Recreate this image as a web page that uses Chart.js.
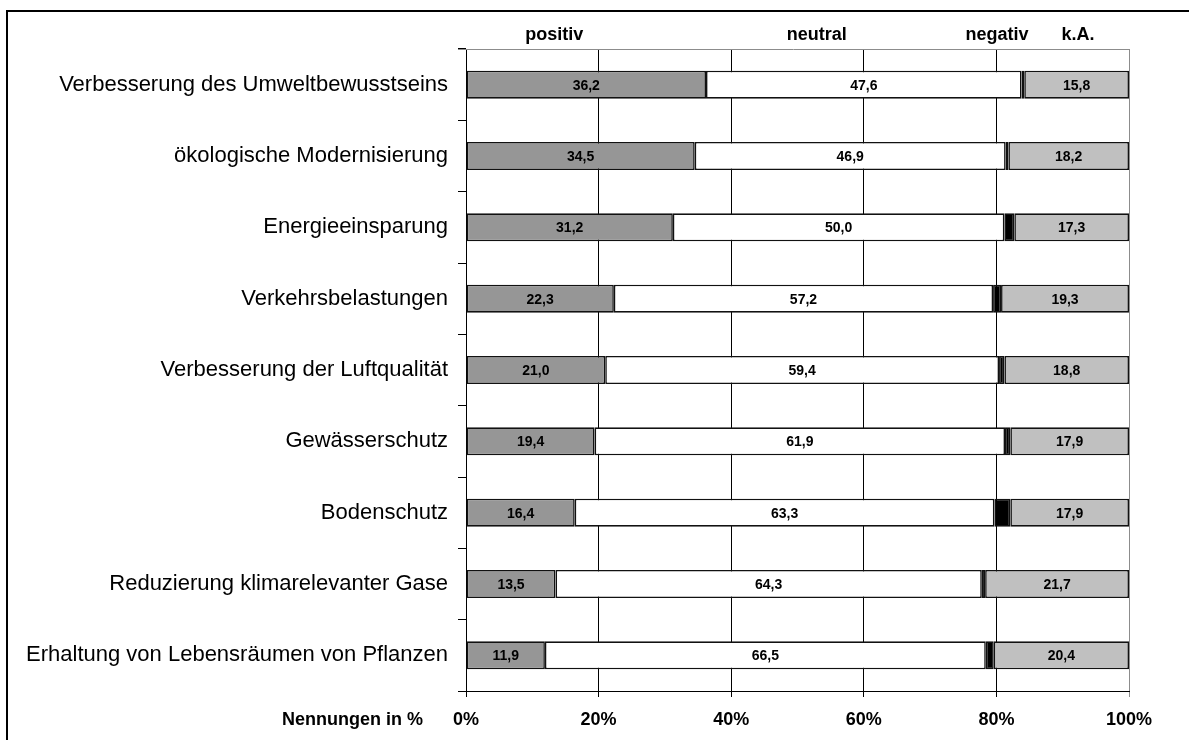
<!DOCTYPE html>
<html>
<head>
<meta charset="utf-8">
<script src="https://cdn.jsdelivr.net/npm/chart.js@4"></script>
<style>
  html, body { margin: 0; padding: 0; background: #fff; }
  #wrap { position: relative; width: 1189px; height: 740px; overflow: hidden; }
  #frame { position: absolute; left: 6px; top: 10px; width: 1300px; height: 800px;
           border-left: 2px solid #000; border-top: 2px solid #000; pointer-events: none; }
  canvas { position: absolute; left: 0; top: 0; }
</style>
</head>
<body>
<div id="wrap">
  <canvas id="c" width="1189" height="740"></canvas>
  <div id="frame"></div>
</div>
<script>
const categories = [
  "Verbesserung des Umweltbewusstseins",
  "ökologische Modernisierung",
  "Energieeinsparung",
  "Verkehrsbelastungen",
  "Verbesserung der Luftqualität",
  "Gewässerschutz",
  "Bodenschutz",
  "Reduzierung klimarelevanter Gase",
  "Erhaltung von Lebensräumen von Pflanzen"
];
const positiv = [36.2, 34.5, 31.2, 22.3, 21.0, 19.4, 16.4, 13.5, 11.9];
const neutral = [47.6, 46.9, 50.0, 57.2, 59.4, 61.9, 63.3, 64.3, 66.5];
const negativ = [0.4, 0.4, 1.5, 1.2, 0.8, 0.8, 2.4, 0.5, 1.2];
const keineAngabe = [15.8, 18.2, 17.3, 19.3, 18.8, 17.9, 17.9, 21.7, 20.4];
const seriesNames = ["positiv", "neutral", "negativ", "k.A."];
const xTicks = [0, 20, 40, 60, 80, 100];
const axisTitle = "Nennungen in %";

const FONT = "'Liberation Sans', Arial, Helvetica, sans-serif";

const framePlugin = {
  id: 'plotFrame',
  beforeDatasetsDraw(chart) {
    const { ctx, chartArea: a } = chart;
    ctx.save();
    ctx.strokeStyle = '#8c8c8c';
    ctx.lineWidth = 1;
    ctx.beginPath();
    ctx.moveTo(a.left - 8, Math.round(a.top) + 0.5);
    ctx.lineTo(a.right, Math.round(a.top) + 0.5);
    ctx.stroke();
    ctx.restore();
  }
};

const labelPlugin = {
  id: 'labels',
  afterDatasetsDraw(chart) {
    const ctx = chart.ctx;
    ctx.save();
    ctx.font = "bold 14px " + FONT;
    ctx.fillStyle = "#000";
    ctx.textAlign = "center";
    ctx.textBaseline = "middle";
    chart.data.datasets.forEach((ds, di) => {
      if (di === 2) return;
      const meta = chart.getDatasetMeta(di);
      meta.data.forEach((el, i) => {
        const v = ds.data[i];
        const cx = (el.x + el.base) / 2;
        ctx.fillText(v.toFixed(1).replace('.', ','), cx, el.y + 1);
      });
    });
    // header labels
    const xs = chart.scales.x;
    const headerAt = [13.3, 52.9, 80.1, 92.3];
    ctx.font = "bold 18px " + FONT;
    seriesNames.forEach((n, i) => {
      ctx.fillText(n, xs.getPixelForValue(headerAt[i]), 35);
    });
    // axis title
    ctx.textAlign = "right";
    ctx.fillText(axisTitle, 423, 720);
    ctx.restore();
  }
};

new Chart(document.getElementById('c'), {
  type: 'bar',
  data: {
    labels: categories,
    datasets: [
      { label: seriesNames[0], data: positiv, backgroundColor: '#969696' },
      { label: seriesNames[1], data: neutral, backgroundColor: '#ffffff' },
      { label: seriesNames[2], data: negativ, backgroundColor: '#000000' },
      { label: seriesNames[3], data: keineAngabe, backgroundColor: '#c0c0c0' }
    ].map(d => Object.assign(d, {
      borderColor: '#111', borderWidth: 1.6, borderSkipped: false,
      barPercentage: 0.393, categoryPercentage: 1
    }))
  },
  options: {
    indexAxis: 'y',
    responsive: false,
    animation: false,
    devicePixelRatio: 1,
    layout: { padding: { top: 49, right: 60, left: 0, bottom: 0 } },
    plugins: { legend: { display: false }, tooltip: { enabled: false } },
    scales: {
      x: {
        stacked: true, min: 0, max: 100,
        afterBuildTicks: s => { s.ticks = xTicks.map(v => ({ value: v })); },
        afterFit: s => { s.height = 49; },
        ticks: {
          callback: v => v + '%',
          font: { family: FONT, size: 18, weight: 'bold' },
          color: '#000', padding: 12, maxRotation: 0
        },
        grid: {
          color: ctx => (ctx.tick && ctx.tick.value === 100) ? '#8c8c8c' : '#000',
          lineWidth: 1, tickLength: 6, drawTicks: true
        },
        border: { display: true, color: '#000', width: 1 }
      },
      y: {
        stacked: true,
        afterFit: s => { s.width = 466; },
        ticks: {
          font: { family: FONT, size: 22 },
          color: '#000', padding: 10
        },
        grid: { offset: true, drawOnChartArea: false, tickLength: 8, color: '#000' },
        border: { display: true, color: '#000', width: 1 }
      }
    }
  },
  plugins: [framePlugin, labelPlugin]
});
</script>
</body>
</html>
